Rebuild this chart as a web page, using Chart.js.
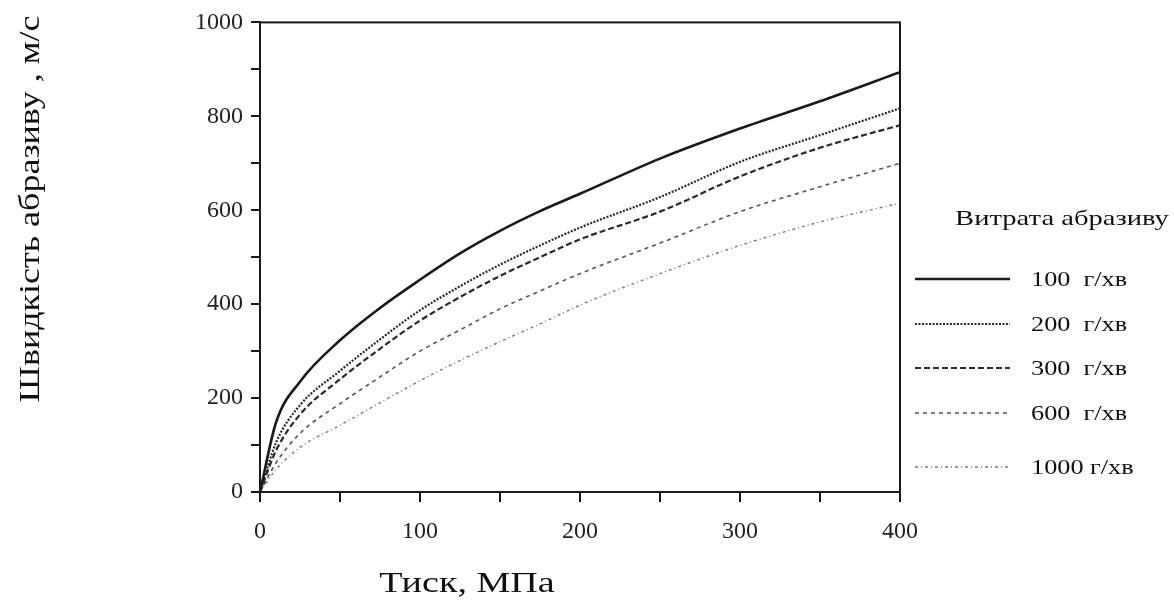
<!DOCTYPE html>
<html>
<head>
<meta charset="utf-8">
<script src="https://cdn.jsdelivr.net/npm/chart.js@4.4.0/dist/chart.umd.min.js"></script>
<style>
  html, body { margin: 0; padding: 0; background: #fff; }
  #wrap { width: 1174px; height: 608px; }
</style>
</head>
<body>
<div id="wrap"><canvas id="canvas1" width="1174" height="608"></canvas></div>
<script>
// тиск, МПа
var pressure = [0, 10, 25, 50, 75, 100, 125, 150, 175, 200, 250, 300, 350, 400];
// швидкість абразиву, м/с для кожної витрати
var flow100  = [0, 148, 235, 323, 392, 452, 508, 556, 598, 635, 710, 774, 832, 894];
var flow200  = [0, 105, 185, 258, 325, 387, 438, 484, 525, 563, 628, 703, 760, 817];
var flow300  = [0, 88, 165, 240, 305, 365, 415, 460, 500, 538, 597, 672, 733, 781];
var flow600  = [0, 62, 125, 188, 245, 300, 345, 390, 428, 465, 530, 597, 650, 700];
var flow1000 = [0, 48, 95, 142, 190, 237, 280, 320, 358, 398, 465, 525, 575, 615];
var seriesLabels = ['100  г/хв', '200  г/хв', '300  г/хв', '600  г/хв', '1000 г/хв'];

var serif = '"Liberation Serif", "DejaVu Serif", serif';

function pts(values) {
	var out = [];
	for (var i = 0; i < pressure.length; i++) {
		out.push({ x: pressure[i], y: values[i] });
	}
	return out;
}

var styles = [
	{ color: '#1a1a1a', width: 2.6, dash: [] },
	{ color: '#2a2a2a', width: 2.2, dash: [2, 1.5] },
	{ color: '#2a2a2a', width: 2.2, dash: [6, 3] },
	{ color: '#555555', width: 1.6, dash: [4, 4] },
	{ color: '#7a7a7a', width: 1.4, dash: [3, 3, 1, 3] }
];
var allValues = [flow100, flow200, flow300, flow600, flow1000];

var datasets = [];
for (var s = 0; s < allValues.length; s++) {
	datasets.push({
		label: seriesLabels[s],
		data: pts(allValues[s]),
		borderColor: styles[s].color,
		borderWidth: styles[s].width,
		borderDash: styles[s].dash,
		pointRadius: 0,
		fill: false,
		cubicInterpolationMode: 'monotone'
	});
}

// текст, трохи розтягнутий по горизонталі, як на оригіналі
function wideText(ctx, text, x, y, stretch) {
	ctx.save();
	ctx.translate(x, y);
	ctx.scale(stretch, 1);
	ctx.fillText(text, 0, 0);
	ctx.restore();
}

// рамка, підписи осей і легенда
var decor = {
	id: 'decor',
	afterDraw: function(chart) {
		var ctx = chart.ctx;
		var a = chart.chartArea;
		ctx.save();
		ctx.strokeStyle = '#1a1a1a';
		ctx.lineWidth = 2;
		ctx.strokeRect(a.left, a.top, a.right - a.left, a.bottom - a.top);

		ctx.fillStyle = '#111';
		ctx.textAlign = 'center';
		ctx.textBaseline = 'middle';
		ctx.font = '30px ' + serif;
		wideText(ctx, 'Тиск, МПа', 467, 584, 1.27);

		ctx.save();
		ctx.translate(31, 209);
		ctx.rotate(-Math.PI / 2);
		wideText(ctx, 'Швидкість абразиву , м/с', 0, 0, 1.2);
		ctx.restore();

		ctx.font = '22px ' + serif;
		wideText(ctx, 'Витрата абразиву', 1062, 219, 1.3);

		var rows = [279, 324, 368, 413, 467];
		ctx.textAlign = 'left';
		ctx.font = '21px ' + serif;
		for (var i = 0; i < rows.length; i++) {
			ctx.beginPath();
			ctx.strokeStyle = styles[i].color;
			ctx.lineWidth = styles[i].width;
			ctx.setLineDash(styles[i].dash);
			ctx.moveTo(915, rows[i]);
			ctx.lineTo(1010, rows[i]);
			ctx.stroke();
			ctx.setLineDash([]);
			ctx.fillStyle = '#111';
			wideText(ctx, seriesLabels[i], 1031, rows[i] + 1, 1.25);
		}
		ctx.restore();
	}
};

var ctx = document.getElementById('canvas1').getContext('2d');
window.myLine = new Chart(ctx, {
	type: 'line',
	data: { datasets: datasets },
	plugins: [decor],
	options: {
		responsive: false,
		animation: false,
		layout: { padding: { left: 0, right: 274, top: 22, bottom: 0 } },
		plugins: {
			legend: { display: false },
			tooltip: { enabled: false }
		},
		scales: {
			x: {
				type: 'linear',
				min: 0,
				max: 400,
				afterFit: function(scale) { scale.height = 116; },
				border: { display: true, color: '#1a1a1a', width: 2 },
				grid: { drawOnChartArea: false, drawTicks: true, tickLength: 10, color: '#1a1a1a', lineWidth: 2 },
				ticks: {
					stepSize: 50,
					padding: 15,
					color: '#222',
					font: { family: serif, size: 24 },
					maxRotation: 0,
					callback: function(v) { return v % 100 === 0 ? v : ''; }
				}
			},
			y: {
				min: 0,
				max: 1000,
				afterFit: function(scale) { scale.width = 260; },
				border: { display: true, color: '#1a1a1a', width: 2 },
				grid: { drawOnChartArea: false, drawTicks: true, tickLength: 9, color: '#1a1a1a', lineWidth: 2 },
				ticks: {
					stepSize: 100,
					padding: 8,
					color: '#222',
					font: { family: serif, size: 24 },
					callback: function(v) { return v % 200 === 0 ? v : ''; }
				}
			}
		}
	}
});
</script>
</body>
</html>
